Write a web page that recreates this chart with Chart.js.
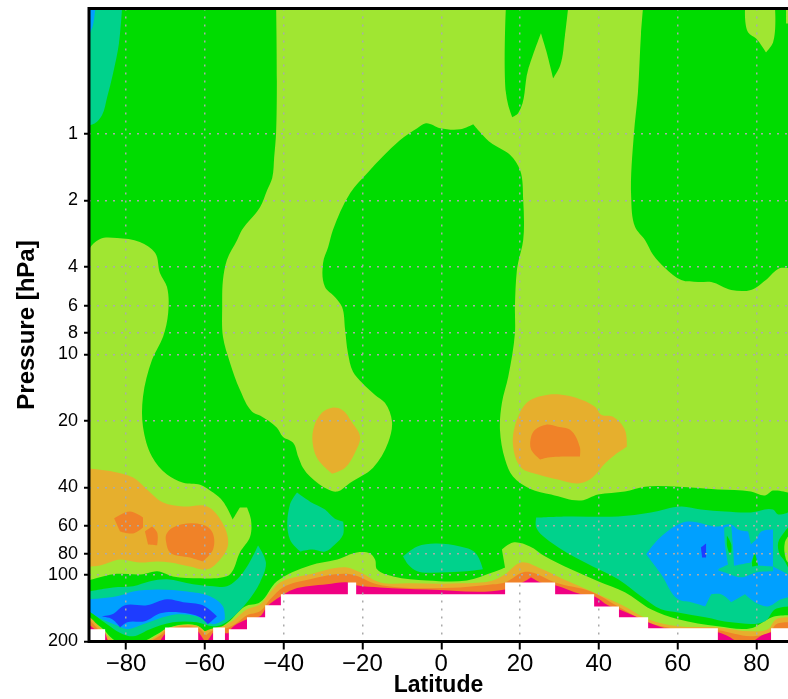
<!DOCTYPE html>
<html>
<head>
<meta charset="utf-8">
<title>Pressure vs latitude</title>
<script src="https://cdn.jsdelivr.net/npm/chart.js@4/dist/chart.umd.js"></script>
<style>
  html,body{margin:0;padding:0;background:#fff;overflow:hidden}
  canvas{display:block}
</style>
</head>
<body>
<canvas id="chartPressao" width="788" height="699"></canvas>
<script>
// axis ticks
const latTicks = [-80,-60,-40,-20,0,20,40,60,80];
const pressureTicks = [1,2,4,6,8,10,20,40,60,80,100,200];

// contour regions, each point is [latitude, log10(hPa)]
const plotFrame = [[-89.4,-0.57],[88,-0.57],[88,2.301],[-89.4,2.301]];

const greenMain = [[-89.4,-0.57],[-41.9,-0.57],[-41.9,-0.012],[-42.4,0.105],[-42.9,0.2],[-44.2,0.255],[-46,0.332],[-50.6,0.436],[-51.8,0.481],[-54.4,0.571],[-55.4,0.662],[-55.6,0.784],[-55.4,0.92],[-53.6,1.038],[-51.1,1.16],[-48,1.259],[-46,1.277],[-41.7,1.332],[-40.2,1.373],[-37.6,1.4],[-36.3,1.463],[-35.1,1.513],[-33.3,1.553],[-28.7,1.612],[-26.4,1.621],[-23.1,1.581],[-17.3,1.513],[-13.5,1.4],[-12.5,1.305],[-14.3,1.219],[-16.8,1.183],[-20.1,1.128],[-22.4,1.078],[-23.7,0.992],[-24.4,0.888],[-25.2,0.784],[-27,0.739],[-29.5,0.694],[-30,0.585],[-28.7,0.513],[-27.5,0.436],[-23.1,0.268],[-18.8,0.178],[-10.5,0.029],[-6.1,-0.026],[-3.9,-0.048],[-0.3,-0.026],[4.8,-0.021],[8.1,-0.044],[12.4,0.038],[17.5,0.096],[20,0.164],[20.8,0.3],[20.8,0.481],[19.5,0.585],[19.2,0.617],[18.7,0.784],[18.7,0.902],[17,1.101],[15.4,1.219],[14.9,1.341],[16.2,1.476],[18.2,1.553],[22.5,1.608],[27.9,1.635],[35.5,1.662],[39.8,1.635],[46.6,1.621],[51.7,1.599],[60.1,1.599],[70.2,1.612],[78.6,1.621],[82.2,1.639],[84.2,1.617],[88,1.626],[88,2.182],[84.7,2.187],[82.9,2.2],[78.6,2.241],[70.2,2.232],[60.1,2.2],[53.2,2.155],[46.6,2.078],[39.8,2.028],[32.9,1.974],[26.3,1.915],[22.5,1.87],[18.2,1.852],[15.4,1.884],[16.2,1.965],[13.1,1.987],[6.5,2.024],[-3.6,2.024],[-12.2,2.006],[-16.3,1.974],[-16.8,1.929],[-18.1,1.902],[-21.4,1.897],[-26.4,1.929],[-33.3,1.956],[-41.7,2.028],[-46,2.123],[-49.8,2.142],[-54.1,2.214],[-57.4,2.25],[-59.9,2.255],[-62,2.228],[-68.8,2.236],[-72.6,2.273],[-75.7,2.301],[-82.3,2.301],[-85.8,2.245],[-89.4,2.187]];
const greenTop = [[16.4,-0.57],[16.4,-0.189],[17,-0.13],[18,-0.076],[19.5,-0.094],[22,-0.288],[25.3,-0.456],[26.6,-0.379],[28.4,-0.252],[30.2,-0.311],[31.4,-0.447],[32.2,-0.57]];
const greenRight = [[51.2,-0.57],[50.7,-0.456],[49.9,-0.184],[48.9,-0.003],[48.2,0.286],[49.2,0.422],[51.7,0.481],[53.8,0.549],[56.8,0.608],[60.9,0.662],[65.2,0.671],[68.5,0.671],[73.6,0.707],[78.6,0.707],[82.4,0.662],[86,0.608],[88,0.608],[88,-0.57]];
const lightTopRight = [[77.1,-0.57],[77.9,-0.46],[79.9,-0.433],[82.4,-0.37],[84.2,-0.415],[84.7,-0.57]];
const lightTopEdge = [[87.5,-0.57],[87.5,-0.501],[88,-0.501],[88,-0.57]];
const lightLeft = [[-89.4,0.526],[-86.6,0.476],[-82.3,0.472],[-76.5,0.49],[-72.6,0.54],[-71.4,0.63],[-69.6,0.694],[-69.3,0.811],[-70.6,0.92],[-73.4,1.024],[-75.7,1.191],[-75.7,1.327],[-73.4,1.463],[-69.6,1.544],[-65.5,1.581],[-61.2,1.59],[-57.9,1.626],[-55.4,1.666],[-52.9,1.748],[-51.1,1.694],[-49.3,1.694],[-48.3,1.748],[-48.5,1.825],[-51.1,1.897],[-53.6,1.996],[-55.4,2.01],[-61.2,2.014],[-68.1,2.006],[-72.1,1.983],[-75.7,1.996],[-83.3,1.996],[-89.4,2.024]];

const tealNW = [[-87.4,-0.57],[-81,-0.57],[-81.8,-0.41],[-83.3,-0.274],[-84.8,-0.166],[-86.1,-0.085],[-87.9,-0.048],[-89.4,-0.039],[-89.4,-0.57]];
const blueNW = [[-89.4,-0.57],[-87.8,-0.57],[-88.4,-0.493],[-89.4,-0.447]];

const amberMid = [[-32.5,1.341],[-30.3,1.264],[-27.7,1.241],[-25.2,1.25],[-22.6,1.309],[-20.6,1.373],[-21.9,1.445],[-24.4,1.513],[-27.7,1.54],[-31.3,1.476],[-32.5,1.418]];
const amberNorth = [[22,1.214],[27.1,1.182],[32.2,1.187],[39,1.237],[40.6,1.273],[43.6,1.282],[46.6,1.341],[47.1,1.418],[44.1,1.454],[41.8,1.49],[37.7,1.567],[34.7,1.585],[29.6,1.567],[24.6,1.544],[20.3,1.513],[18.2,1.409],[19.2,1.296]];
const orangeNorth = [[22.8,1.373],[23.8,1.341],[26.6,1.318],[29.6,1.327],[32.7,1.341],[35.2,1.422],[35.2,1.463],[27.1,1.467],[25.1,1.476],[22.8,1.431]];
const amberSouth = [[-89.4,1.517],[-83.3,1.531],[-78.2,1.558],[-74.7,1.612],[-70.6,1.671],[-65.5,1.689],[-59.4,1.689],[-55.6,1.762],[-54.1,1.861],[-56.1,1.929],[-59.4,1.974],[-63.8,1.961],[-68.8,1.943],[-72.1,1.938],[-76.5,1.943],[-81.5,1.929],[-86.6,1.956],[-89.4,1.961]];
const orangeSouth1 = [[-83,1.743],[-79,1.712],[-75.7,1.739],[-75.7,1.784],[-78.2,1.811],[-81.5,1.802]];
const orangeSouth2 = [[-75.2,1.802],[-73.4,1.78],[-72.1,1.807],[-72.1,1.865],[-74.4,1.861]];
const orangeSouth3 = [[-69.8,1.816],[-68.1,1.784],[-60.7,1.771],[-58.2,1.802],[-57.9,1.883],[-60.5,1.938],[-63.8,1.92],[-68.8,1.897],[-69.8,1.852]];

const tealSW = [[-89.4,2.074],[-83.3,2.056],[-78.2,2.051],[-73.9,2.028],[-69.6,2.019],[-63,2.042],[-57.9,2.051],[-54.4,2.051],[-50.3,1.988],[-46.5,1.866],[-44.5,1.943],[-46,2.033],[-49.3,2.123],[-52.9,2.191],[-55.6,2.224],[-57.9,2.232],[-62,2.214],[-68.1,2.214],[-73.9,2.245],[-78.2,2.277],[-80.8,2.268],[-84.1,2.232],[-89.4,2.146]];
const blueSW = [[-89.4,2.11],[-82.3,2.096],[-78.2,2.074],[-72.1,2.065],[-64.5,2.074],[-58.7,2.096],[-55.4,2.142],[-54.9,2.2],[-57.9,2.223],[-62,2.187],[-67.1,2.178],[-72.1,2.2],[-75.7,2.223],[-79.7,2.245],[-82.3,2.228],[-86.6,2.196],[-89.4,2.164]];
const navySW = [[-86.3,2.187],[-83.5,2.178],[-80.3,2.137],[-74.7,2.137],[-69.6,2.11],[-65.5,2.123],[-60.5,2.137],[-56.9,2.187],[-59.2,2.223],[-61.2,2.191],[-66.3,2.169],[-71.3,2.173],[-75.2,2.209],[-79.7,2.214],[-81.5,2.237],[-83.5,2.2]];
const tealMid = [[-38.4,1.68],[-36.6,1.626],[-33.3,1.667],[-29.5,1.703],[-27,1.744],[-24.9,1.757],[-24.9,1.816],[-27,1.861],[-29.5,1.893],[-32.8,1.884],[-35.8,1.893],[-38.4,1.839]];
const tealCentre = [[-9.7,1.915],[-6.1,1.87],[-1.6,1.857],[4.8,1.87],[8.6,1.897],[10.6,1.974],[6.5,1.983],[-0.3,1.988],[-6.1,1.983],[-8.4,1.952]];
const tealNE = [[24.1,1.739],[32.2,1.734],[44.9,1.734],[53.2,1.716],[60.9,1.689],[65.9,1.703],[72,1.712],[78.6,1.716],[84.2,1.703],[85.5,1.725],[88,1.716],[88,2.142],[84.7,2.155],[82.2,2.209],[73.6,2.214],[67,2.191],[60.1,2.169],[55.8,2.155],[50.7,2.096],[44.9,2.019],[36.5,1.943],[27.9,1.852],[24.1,1.784]];
const blueNE = [[52,1.906],[55,1.839],[60.1,1.771],[62.6,1.757],[70.2,1.78],[73.6,1.771],[75.3,1.793],[77.9,1.802],[78.6,1.861],[79.9,1.839],[81.2,1.802],[84.2,1.793],[84.2,1.961],[88,1.996],[88,2.1],[86.2,2.11],[82.9,2.142],[79.6,2.123],[77.1,2.087],[73.6,2.123],[71,2.087],[68.5,2.087],[67,2.142],[63.4,2.123],[60.1,2.11],[55.8,1.996]];
const tealStripe = [[71.8,1.784],[73.6,1.775],[74.1,1.884],[74.3,1.961],[70.8,1.979],[70.2,1.974],[72.8,1.952],[72,1.861]];
const tealStrip = [[70.2,1.979],[73.6,1.961],[78.6,1.943],[79.6,1.897],[80.4,1.956],[84.2,1.961],[84.2,1.983],[79.9,1.988],[76.1,2.01],[72,1.988]];
const greenSpeck1 = [[72.5,1.82],[73.6,1.861],[73.6,1.897],[73,1.897],[72.5,1.866]];
const greenSpeck2 = [[79.6,1.897],[80.4,1.956],[78.9,1.961],[78.9,1.938]];
const navySpeck = [[65.9,1.875],[67.2,1.857],[67.2,1.92],[66.2,1.92]];
const greenEdge = [[85.5,1.852],[87.2,1.802],[88,1.784],[88,1.965],[87.2,1.938],[85.9,1.906]];
const lightEdge = [[87.2,1.852],[88,1.825],[88,1.943],[87.5,1.929]];

// layers that hug the ground, lowest pressure curve first
const amberCorner = [[-89.4,2.187],[-86.6,2.237],[-83.3,2.301],[-89.4,2.301]];
const amberGround = [[-74.4,2.301],[-71.4,2.264],[-70.1,2.246],[-61.7,2.232],[-60,2.255],[-57.9,2.241],[-54.9,2.228],[-52.4,2.2],[-49.3,2.155],[-46,2.133],[-43.4,2.078],[-40.9,2.033],[-33.3,1.996],[-23.9,1.965],[-20.6,1.987],[-15.5,2.033],[-7.9,2.037],[4.8,2.037],[13.1,2.024],[16.2,1.996],[20.3,1.943],[24.6,1.965],[32.2,2.028],[39.8,2.087],[46.6,2.142],[52.5,2.2],[60.1,2.232],[70.2,2.237],[78.6,2.255],[82.9,2.246],[85,2.2],[88,2.191],[88,2.301]];
const orangeCorner = [[-89.4,2.2],[-87.1,2.245],[-84.1,2.301],[-89.4,2.301]];
const orangeGround = [[-73.9,2.301],[-70.9,2.268],[-69.8,2.25],[-61.7,2.241],[-59.7,2.273],[-57.9,2.25],[-54.6,2.241],[-52.1,2.219],[-49.3,2.182],[-46,2.164],[-43.4,2.11],[-40.2,2.056],[-33.3,2.019],[-23.1,1.996],[-16.3,2.042],[-10.5,2.056],[4.8,2.056],[13.1,2.042],[16.2,2.033],[20.8,1.987],[22.8,1.987],[28.9,2.033],[38,2.074],[44.9,2.142],[52.5,2.214],[60.1,2.245],[70.2,2.25],[78.6,2.277],[83.4,2.259],[85,2.223],[88,2.214],[88,2.301]];
const pinkCorner = [[-89.4,2.223],[-87.9,2.245],[-85.4,2.255],[-84.6,2.301],[-89.4,2.301]];
const pinkBit1 = [[-71.4,2.301],[-70.4,2.273],[-68.8,2.245],[-68.8,2.301]];
const pinkBit2 = [[-61.7,2.255],[-60,2.301],[-61.7,2.301]];
const pinkBit3 = [[-59.4,2.301],[-57.9,2.259],[-57.9,2.301]];
const pinkBit4 = [[-54.9,2.264],[-53.8,2.264],[-53.8,2.301],[-54.9,2.301]];
const pinkGround = [[-53.8,2.255],[-49.3,2.2],[-46,2.187],[-44.2,2.142],[-40.7,2.096],[-37.6,2.065],[-29,2.042],[-23.7,2.033],[-21.6,2.046],[-15.5,2.056],[-3.6,2.065],[16.2,2.065],[21.2,2.028],[22.8,2.01],[25.1,2.033],[28.9,2.046],[35.5,2.087],[38.8,2.096],[42.3,2.137],[45.1,2.155],[49.2,2.187],[52.5,2.214],[56.8,2.241],[70.2,2.259],[72.8,2.277],[75.3,2.301],[78.9,2.301],[81.4,2.273],[83.8,2.259],[83.8,2.301],[-53.8,2.301]];

// no data below the surface
const noData = [[-89.4,2.246],[-85.3,2.246],[-85.3,2.301],[-70.1,2.301],[-70.1,2.237],[-61.7,2.237],[-61.7,2.301],[-57.9,2.301],[-57.9,2.237],[-54.9,2.237],[-54.9,2.301],[-53.9,2.301],[-53.9,2.246],[-49.3,2.246],[-49.3,2.191],[-44.7,2.191],[-44.7,2.137],[-40.7,2.137],[-40.7,2.087],[-23.7,2.087],[-23.7,2.033],[-21.6,2.033],[-21.6,2.087],[16.2,2.087],[16.2,2.033],[28.9,2.033],[28.9,2.087],[38.8,2.087],[38.8,2.142],[45.1,2.142],[45.1,2.191],[52.5,2.191],[52.5,2.241],[70.2,2.241],[70.2,2.301],[83.7,2.301],[83.7,2.241],[88,2.241],[88,2.301],[-89.4,2.301]];

const GREEN='#00dc00', LIGHT='#a0e632', AMBER='#e6af2d', ORANGE='#f08228', PINK='#f00082',
      TEAL='#00d28c', BLUE='#00a0ff', NAVY='#1e3cff', WHITE='#ffffff';

// painted in this order
const layers = [
  [plotFrame,LIGHT],[greenMain,GREEN],[greenTop,GREEN],[greenRight,GREEN],
  [lightTopRight,LIGHT],[lightTopEdge,LIGHT],[lightLeft,LIGHT],
  [tealNW,TEAL],[blueNW,BLUE],
  [amberMid,AMBER],[amberNorth,AMBER],[orangeNorth,ORANGE],
  [amberSouth,AMBER],[orangeSouth1,ORANGE],[orangeSouth2,ORANGE],[orangeSouth3,ORANGE],
  [tealSW,TEAL],[blueSW,BLUE],[navySW,NAVY],[tealMid,TEAL],[tealCentre,TEAL],
  [tealNE,TEAL],[blueNE,BLUE],[tealStripe,TEAL],[tealStrip,TEAL],
  [greenSpeck1,GREEN],[greenSpeck2,GREEN],[navySpeck,NAVY],[greenEdge,GREEN],[lightEdge,LIGHT],
  [amberCorner,AMBER],[amberGround,AMBER],[orangeCorner,ORANGE],[orangeGround,ORANGE],
  [pinkCorner,PINK],[pinkBit1,PINK],[pinkBit2,PINK],[pinkBit3,PINK],[pinkBit4,PINK],[pinkGround,PINK],
  [noData,WHITE]
];

// closed outline through the points; gentle bends are rounded, sharp ones stay corners
function traceOutline(ctx, pts, rounded){
  const n = pts.length;
  const tan = pts.map((p,i)=>{
    if(!rounded) return null;
    const a = pts[(i+n-1)%n], b = pts[(i+1)%n];
    const ax = p.x-a.x, ay = p.y-a.y, bx = b.x-p.x, by = b.y-p.y;
    const la = Math.hypot(ax,ay)||1, lb = Math.hypot(bx,by)||1;
    if((ax*bx+ay*by)/(la*lb) < 0.55) return null;
    const tx = ax/la+bx/lb, ty = ay/la+by/lb, l = Math.hypot(tx,ty)||1;
    return {x:tx/l, y:ty/l};
  });
  ctx.beginPath();
  ctx.moveTo(pts[0].x, pts[0].y);
  for(let i=0;i<n;i++){
    const p = pts[i], q = pts[(i+1)%n], d = Math.hypot(q.x-p.x,q.y-p.y)*0.33;
    const t0 = tan[i], t1 = tan[(i+1)%n];
    ctx.bezierCurveTo(
      t0 ? p.x+t0.x*d : p.x, t0 ? p.y+t0.y*d : p.y,
      t1 ? q.x-t1.x*d : q.x, t1 ? q.y-t1.y*d : q.y,
      q.x, q.y);
  }
  ctx.closePath();
}

// fills each dataset's outline, using the pixel positions the scales gave its points
const contourFill = {
  id:'contourFill',
  beforeDatasetsDraw(chart){
    const {ctx, chartArea:a} = chart;
    ctx.save();
    ctx.beginPath();
    ctx.rect(a.left, a.top, a.right-a.left, a.bottom-a.top);
    ctx.clip();
    chart.data.datasets.forEach((ds,i)=>{
      traceOutline(ctx, chart.getDatasetMeta(i).data, ds.backgroundColor!==WHITE);
      ctx.fillStyle = ds.backgroundColor;
      ctx.fill();
    });
    ctx.restore();
  }
};

const plotBorder = {
  id:'plotBorder',
  afterDraw(chart){
    const {ctx, chartArea:a} = chart;
    ctx.save();
    ctx.strokeStyle = '#000';
    ctx.lineWidth = 3;
    ctx.beginPath();
    ctx.moveTo(a.right, a.top);
    ctx.lineTo(a.left, a.top);
    ctx.lineTo(a.left, a.bottom);
    ctx.lineTo(a.right, a.bottom);
    ctx.stroke();
    ctx.restore();
  }
};

new Chart(document.getElementById('chartPressao'), {
  type:'scatter',
  data:{
    datasets: layers.map(([region,color])=>({
      data: region.map(([lat,lg])=>({x:lat, y:Math.pow(10,lg)})),
      backgroundColor: color,
      pointRadius: 0,
      showLine: false
    }))
  },
  options:{
    responsive:false,
    animation:false,
    layout:{ padding:{top:8.5, right:0, left:0, bottom:0} },
    plugins:{ legend:{display:false}, tooltip:{enabled:false} },
    scales:{
      x:{
        type:'linear', min:-89.4, max:88,
        afterBuildTicks:(s)=>{ s.ticks = latTicks.map(v=>({value:v})); },
        afterFit:(s)=>{ s.height = 57.5; s.paddingLeft = 0; s.paddingRight = 0; },
        grid:{ z:1, color:'#aaaaaa', lineWidth:1.5, tickColor:'#000', tickWidth:2, tickLength:8 },
        border:{ display:false, dash:[2,6] },
        ticks:{
          autoSkip:false, maxRotation:0, padding:0, color:'#000',
          font:{family:'"Liberation Sans"', size:24},
          callback:(v)=> String(v).replace('-','\u2212')
        },
        title:{ display:true, text:'Latitude', color:'#000', padding:0,
          font:{family:'"Liberation Sans"', size:23, weight:'bold'} }
      },
      y:{
        type:'logarithmic', reverse:true, min:0.27, max:200,
        afterBuildTicks:(s)=>{ s.ticks = pressureTicks.map(v=>({value:v})); },
        afterFit:(s)=>{ s.width = 89; s.paddingTop = 0; s.paddingBottom = 0; },
        grid:{ z:1, color:'#aaaaaa', lineWidth:1.5, tickColor:'#000', tickWidth:2, tickLength:5 },
        border:{ display:false, dash:[2,6] },
        ticks:{
          autoSkip:false, padding:6, color:'#000',
          font:{family:'"Liberation Sans"', size:18},
          callback:(v)=> String(v)
        },
        title:{ display:true, text:'Pressure [hPa]', color:'#000', padding:{top:13,bottom:0},
          font:{family:'"Liberation Sans"', size:24, weight:'bold'} }
      }
    }
  },
  plugins:[contourFill, plotBorder]
});
</script>
</body>
</html>
